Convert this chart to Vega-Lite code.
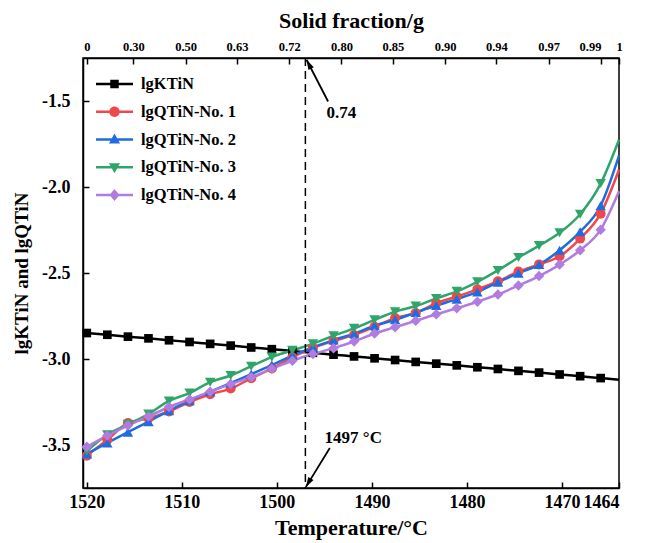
{
"$schema": "https://vega.github.io/schema/vega-lite/v6.json",
"width": 536, "height": 430,
"autosize": {"type": "none"},
"padding": {"left": 83, "top": 58, "right": 27, "bottom": 55},
"config": {
  "font": "Liberation Serif",
  "view": {"stroke": "black", "strokeWidth": 1.5},
  "axis": {"labelFont": "Liberation Serif", "titleFont": "Liberation Serif", "labelFontWeight": "bold", "titleFontWeight": "bold", "labelColor": "black", "titleColor": "black", "domainColor": "black", "tickColor": "black", "domainWidth": 1.5, "tickWidth": 1.5, "grid": false, "tickSize": -6}
},
"datasets": {
"curves": [
{"series":"lgKTiN","T":1520,"v":-2.849},{"series":"lgKTiN","T":1517.84,"v":-2.859},{"series":"lgKTiN","T":1515.67,"v":-2.870},{"series":"lgKTiN","T":1513.51,"v":-2.880},{"series":"lgKTiN","T":1511.35,"v":-2.891},{"series":"lgKTiN","T":1509.19,"v":-2.901},{"series":"lgKTiN","T":1507.02,"v":-2.912},{"series":"lgKTiN","T":1504.86,"v":-2.922},{"series":"lgKTiN","T":1502.7,"v":-2.933},{"series":"lgKTiN","T":1500.53,"v":-2.943},{"series":"lgKTiN","T":1498.37,"v":-2.954},{"series":"lgKTiN","T":1496.21,"v":-2.964},{"series":"lgKTiN","T":1494.04,"v":-2.975},{"series":"lgKTiN","T":1491.88,"v":-2.985},{"series":"lgKTiN","T":1489.72,"v":-2.996},{"series":"lgKTiN","T":1487.56,"v":-3.006},{"series":"lgKTiN","T":1485.39,"v":-3.017},{"series":"lgKTiN","T":1483.23,"v":-3.027},{"series":"lgKTiN","T":1481.07,"v":-3.037},{"series":"lgKTiN","T":1478.9,"v":-3.048},{"series":"lgKTiN","T":1476.74,"v":-3.058},{"series":"lgKTiN","T":1474.58,"v":-3.069},{"series":"lgKTiN","T":1472.41,"v":-3.079},{"series":"lgKTiN","T":1470.25,"v":-3.090},{"series":"lgKTiN","T":1468.09,"v":-3.100},{"series":"lgKTiN","T":1465.93,"v":-3.111},{"series":"lgKTiN","T":1464,"v":-3.121},
{"series":"lgQTiN-No. 1","T":1520,"v":-3.562},{"series":"lgQTiN-No. 1","T":1517.84,"v":-3.47},{"series":"lgQTiN-No. 1","T":1515.67,"v":-3.372},{"series":"lgQTiN-No. 1","T":1513.51,"v":-3.345},{"series":"lgQTiN-No. 1","T":1511.35,"v":-3.305},{"series":"lgQTiN-No. 1","T":1509.19,"v":-3.25},{"series":"lgQTiN-No. 1","T":1507.02,"v":-3.205},{"series":"lgQTiN-No. 1","T":1504.86,"v":-3.172},{"series":"lgQTiN-No. 1","T":1502.7,"v":-3.112},{"series":"lgQTiN-No. 1","T":1500.53,"v":-3.055},{"series":"lgQTiN-No. 1","T":1498.37,"v":-2.99},{"series":"lgQTiN-No. 1","T":1496.21,"v":-2.935},{"series":"lgQTiN-No. 1","T":1494.04,"v":-2.895},{"series":"lgQTiN-No. 1","T":1491.88,"v":-2.86},{"series":"lgQTiN-No. 1","T":1489.72,"v":-2.812},{"series":"lgQTiN-No. 1","T":1487.56,"v":-2.762},{"series":"lgQTiN-No. 1","T":1485.39,"v":-2.733},{"series":"lgQTiN-No. 1","T":1483.23,"v":-2.675},{"series":"lgQTiN-No. 1","T":1481.07,"v":-2.637},{"series":"lgQTiN-No. 1","T":1478.9,"v":-2.595},{"series":"lgQTiN-No. 1","T":1476.74,"v":-2.548},{"series":"lgQTiN-No. 1","T":1474.58,"v":-2.492},{"series":"lgQTiN-No. 1","T":1472.41,"v":-2.45},{"series":"lgQTiN-No. 1","T":1470.25,"v":-2.403},{"series":"lgQTiN-No. 1","T":1468.09,"v":-2.30},{"series":"lgQTiN-No. 1","T":1465.93,"v":-2.155},{"series":"lgQTiN-No. 1","T":1464,"v":-1.90},
{"series":"lgQTiN-No. 2","T":1520,"v":-3.552},{"series":"lgQTiN-No. 2","T":1517.84,"v":-3.488},{"series":"lgQTiN-No. 2","T":1515.67,"v":-3.425},{"series":"lgQTiN-No. 2","T":1513.51,"v":-3.364},{"series":"lgQTiN-No. 2","T":1511.35,"v":-3.30},{"series":"lgQTiN-No. 2","T":1509.19,"v":-3.242},{"series":"lgQTiN-No. 2","T":1507.02,"v":-3.19},{"series":"lgQTiN-No. 2","T":1504.86,"v":-3.14},{"series":"lgQTiN-No. 2","T":1502.7,"v":-3.088},{"series":"lgQTiN-No. 2","T":1500.53,"v":-3.035},{"series":"lgQTiN-No. 2","T":1498.37,"v":-2.98},{"series":"lgQTiN-No. 2","T":1496.21,"v":-2.932},{"series":"lgQTiN-No. 2","T":1494.04,"v":-2.89},{"series":"lgQTiN-No. 2","T":1491.88,"v":-2.853},{"series":"lgQTiN-No. 2","T":1489.72,"v":-2.806},{"series":"lgQTiN-No. 2","T":1487.56,"v":-2.772},{"series":"lgQTiN-No. 2","T":1485.39,"v":-2.73},{"series":"lgQTiN-No. 2","T":1483.23,"v":-2.689},{"series":"lgQTiN-No. 2","T":1481.07,"v":-2.652},{"series":"lgQTiN-No. 2","T":1478.9,"v":-2.61},{"series":"lgQTiN-No. 2","T":1476.74,"v":-2.553},{"series":"lgQTiN-No. 2","T":1474.58,"v":-2.501},{"series":"lgQTiN-No. 2","T":1472.41,"v":-2.451},{"series":"lgQTiN-No. 2","T":1470.25,"v":-2.368},{"series":"lgQTiN-No. 2","T":1468.09,"v":-2.26},{"series":"lgQTiN-No. 2","T":1465.93,"v":-2.109},{"series":"lgQTiN-No. 2","T":1464,"v":-1.818},
{"series":"lgQTiN-No. 3","T":1520,"v":-3.535},{"series":"lgQTiN-No. 3","T":1517.84,"v":-3.44},{"series":"lgQTiN-No. 3","T":1515.67,"v":-3.38},{"series":"lgQTiN-No. 3","T":1513.51,"v":-3.32},{"series":"lgQTiN-No. 3","T":1511.35,"v":-3.244},{"series":"lgQTiN-No. 3","T":1509.19,"v":-3.198},{"series":"lgQTiN-No. 3","T":1507.02,"v":-3.135},{"series":"lgQTiN-No. 3","T":1504.86,"v":-3.096},{"series":"lgQTiN-No. 3","T":1502.7,"v":-3.042},{"series":"lgQTiN-No. 3","T":1500.53,"v":-2.989},{"series":"lgQTiN-No. 3","T":1498.37,"v":-2.95},{"series":"lgQTiN-No. 3","T":1496.21,"v":-2.911},{"series":"lgQTiN-No. 3","T":1494.04,"v":-2.865},{"series":"lgQTiN-No. 3","T":1491.88,"v":-2.822},{"series":"lgQTiN-No. 3","T":1489.72,"v":-2.772},{"series":"lgQTiN-No. 3","T":1487.56,"v":-2.725},{"series":"lgQTiN-No. 3","T":1485.39,"v":-2.692},{"series":"lgQTiN-No. 3","T":1483.23,"v":-2.648},{"series":"lgQTiN-No. 3","T":1481.07,"v":-2.607},{"series":"lgQTiN-No. 3","T":1478.9,"v":-2.551},{"series":"lgQTiN-No. 3","T":1476.74,"v":-2.485},{"series":"lgQTiN-No. 3","T":1474.58,"v":-2.41},{"series":"lgQTiN-No. 3","T":1472.41,"v":-2.341},{"series":"lgQTiN-No. 3","T":1470.25,"v":-2.266},{"series":"lgQTiN-No. 3","T":1468.09,"v":-2.158},{"series":"lgQTiN-No. 3","T":1465.93,"v":-1.98},{"series":"lgQTiN-No. 3","T":1464,"v":-1.725},
{"series":"lgQTiN-No. 4","T":1520,"v":-3.51},{"series":"lgQTiN-No. 4","T":1517.84,"v":-3.445},{"series":"lgQTiN-No. 4","T":1515.67,"v":-3.387},{"series":"lgQTiN-No. 4","T":1513.51,"v":-3.334},{"series":"lgQTiN-No. 4","T":1511.35,"v":-3.279},{"series":"lgQTiN-No. 4","T":1509.19,"v":-3.235},{"series":"lgQTiN-No. 4","T":1507.02,"v":-3.19},{"series":"lgQTiN-No. 4","T":1504.86,"v":-3.146},{"series":"lgQTiN-No. 4","T":1502.7,"v":-3.106},{"series":"lgQTiN-No. 4","T":1500.53,"v":-3.057},{"series":"lgQTiN-No. 4","T":1498.37,"v":-3.01},{"series":"lgQTiN-No. 4","T":1496.21,"v":-2.971},{"series":"lgQTiN-No. 4","T":1494.04,"v":-2.937},{"series":"lgQTiN-No. 4","T":1491.88,"v":-2.898},{"series":"lgQTiN-No. 4","T":1489.72,"v":-2.852},{"series":"lgQTiN-No. 4","T":1487.56,"v":-2.815},{"series":"lgQTiN-No. 4","T":1485.39,"v":-2.778},{"series":"lgQTiN-No. 4","T":1483.23,"v":-2.74},{"series":"lgQTiN-No. 4","T":1481.07,"v":-2.705},{"series":"lgQTiN-No. 4","T":1478.9,"v":-2.667},{"series":"lgQTiN-No. 4","T":1476.74,"v":-2.625},{"series":"lgQTiN-No. 4","T":1474.58,"v":-2.573},{"series":"lgQTiN-No. 4","T":1472.41,"v":-2.518},{"series":"lgQTiN-No. 4","T":1470.25,"v":-2.451},{"series":"lgQTiN-No. 4","T":1468.09,"v":-2.368},{"series":"lgQTiN-No. 4","T":1465.93,"v":-2.248},{"series":"lgQTiN-No. 4","T":1464,"v":-2.025}
],
"notes": [
{"label":"0.74","T":1494.61,"v":-1.503,"T2":1496.88,"v2":-1.26,"Tl":1493.2,"vl":-1.571},
{"label":"1497 °C","T":1494.43,"v":-3.518,"T2":1496.96,"v2":-3.745,"Tl":1491.96,"vl":-3.459}
]
},
"resolve": {"axis": {"x": "independent", "y": "independent"}},
"layer": [
{
  "data": {"name": "curves"},
  "mark": {"type": "line", "strokeWidth": 2.5, "interpolate": "monotone"},
  "encoding": {
    "x": {"field": "T", "type": "quantitative",
      "scale": {"domain": [1464, 1520.4], "reverse": true, "nice": false, "zero": false},
      "axis": {"orient": "bottom", "values": [1520, 1510, 1500, 1490, 1480, 1470, 1464], "format": "d", "title": "Temperature/°C", "labelFontSize": 18, "labelPadding": 11, "labelFlush": true, "labelOverlap": false, "titleFontSize": 22, "titlePadding": 6}},
    "y": {"field": "v", "type": "quantitative",
      "scale": {"domain": [-3.75, -1.25], "nice": false, "zero": false},
      "axis": {"values": [-3.5, -3, -2.5, -2, -1.5], "labelExpr": "(datum.value < 0 ? '-' : '') + format(abs(datum.value), '.1f')", "title": "lgKTiN and lgQTiN", "labelFontSize": 18, "labelPadding": 19, "labelOverlap": false, "titleFontSize": 19, "titlePadding": 10}},
    "stroke": {"field": "series", "type": "nominal",
      "scale": {"range": ["#000000", "#F0474B", "#1F6CE0", "#2FA56A", "#B07CE0"]},
      "legend": null}
  }
},
{
  "data": {"name": "curves"},
  "transform": [{"filter": "datum.series == 'lgKTiN' && datum.T > 1465"}],
  "mark": {"type": "point", "shape": "square", "filled": true, "size": 75, "opacity": 1, "color": "#000000"},
  "encoding": {"x": {"field": "T", "type": "quantitative", "axis": null}, "y": {"field": "v", "type": "quantitative", "axis": null}}
},
{
  "data": {"name": "curves"},
  "transform": [{"filter": "datum.series == 'lgQTiN-No. 1' && datum.T > 1465"}],
  "mark": {"type": "point", "shape": "circle", "filled": true, "size": 100, "opacity": 1, "color": "#F0474B"},
  "encoding": {"x": {"field": "T", "type": "quantitative", "axis": null}, "y": {"field": "v", "type": "quantitative", "axis": null}}
},
{
  "data": {"name": "curves"},
  "transform": [{"filter": "datum.series == 'lgQTiN-No. 2' && datum.T > 1465"}],
  "mark": {"type": "point", "shape": "triangle-up", "filled": true, "size": 110, "opacity": 1, "color": "#1F6CE0"},
  "encoding": {"x": {"field": "T", "type": "quantitative", "axis": null}, "y": {"field": "v", "type": "quantitative", "axis": null}}
},
{
  "data": {"name": "curves"},
  "transform": [{"filter": "datum.series == 'lgQTiN-No. 3' && datum.T > 1465"}],
  "mark": {"type": "point", "shape": "triangle-down", "filled": true, "size": 110, "opacity": 1, "color": "#2FA56A"},
  "encoding": {"x": {"field": "T", "type": "quantitative", "axis": null}, "y": {"field": "v", "type": "quantitative", "axis": null}}
},
{
  "data": {"name": "curves"},
  "transform": [{"filter": "datum.series == 'lgQTiN-No. 4' && datum.T > 1465"}],
  "mark": {"type": "point", "shape": "diamond", "filled": true, "size": 110, "opacity": 1, "color": "#B07CE0"},
  "encoding": {"x": {"field": "T", "type": "quantitative", "axis": null}, "y": {"field": "v", "type": "quantitative", "axis": null}}
},
{
  "data": {"name": "curves"},
  "transform": [{"filter": "datum.T > 9999"}],
  "mark": {"type": "point", "filled": true, "opacity": 1},
  "encoding": {
    "x": {"field": "T", "type": "quantitative", "axis": null},
    "y": {"field": "v", "type": "quantitative", "axis": null},
    "color": {"field": "series", "type": "nominal",
      "scale": {"domain": ["lgKTiN", "lgQTiN-No. 1", "lgQTiN-No. 2", "lgQTiN-No. 3", "lgQTiN-No. 4"], "range": ["#000000", "#F0474B", "#1F6CE0", "#2FA56A", "#B07CE0"]},
      "legend": {"orient": "none", "legendX": 13, "legendY": 16, "title": null, "padding": 0, "symbolSize": 1369, "clipHeight": 20, "rowPadding": 7.75, "labelOffset": 8, "labelFont": "Liberation Serif", "labelFontWeight": "bold", "labelFontSize": 16.5, "labelColor": "black", "symbolOpacity": 1, "symbolStrokeWidth": 0}},
    "shape": {"field": "series", "type": "nominal",
      "scale": {"domain": ["lgKTiN", "lgQTiN-No. 1", "lgQTiN-No. 2", "lgQTiN-No. 3", "lgQTiN-No. 4"],
        "range": ["M-1,-0.068H1V0.068H-1Z M-0.23,-0.23H0.23V0.23H-0.23Z", "M-1,-0.068H1V0.068H-1Z M-0.28,0A0.28,0.28 0 1,1 0.28,0A0.28,0.28 0 1,1 -0.28,0Z", "M-1,-0.068H1V0.068H-1Z M0,-0.32L0.3,0.22L-0.3,0.22Z", "M-1,-0.068H1V0.068H-1Z M0,0.32L-0.3,-0.22L0.3,-0.22Z", "M-1,-0.068H1V0.068H-1Z M0,-0.32L0.27,0L0,0.32L-0.27,0Z"]},
      "legend": {"orient": "none", "legendX": 13, "legendY": 16, "title": null, "padding": 0, "symbolSize": 1369, "clipHeight": 20, "rowPadding": 7.75, "labelOffset": 8, "labelFont": "Liberation Serif", "labelFontWeight": "bold", "labelFontSize": 16.5, "labelColor": "black", "symbolOpacity": 1, "symbolStrokeWidth": 0}}
  }
},
{
  "data": {"values": [{"T": 1497}]},
  "mark": {"type": "rule", "strokeDash": [8, 5], "strokeWidth": 1.5, "color": "black"},
  "encoding": {
    "x": {"field": "T", "type": "quantitative",
      "axis": {"orient": "top", "values": [1520, 1515.1, 1509.6, 1504.2, 1498.7, 1493.2, 1487.8, 1482.3, 1476.9, 1471.4, 1465.9, 1464], "labelExpr": "['0','0.30','0.50','0.63','0.72','0.80','0.85','0.90','0.94','0.97','0.99','1'][indexof([1520,1515.1,1509.6,1504.2,1498.7,1493.2,1487.8,1482.3,1476.9,1471.4,1465.9,1464], datum.value)]", "labelAlign": {"condition": {"test": "datum.value == 1465.9", "value": "right"}, "value": "center"}, "title": "Solid fraction/g", "labelFontSize": 12.5, "labelPadding": 10.5, "labelFlush": true, "labelOverlap": false, "titleFontSize": 22, "titlePadding": 8}}
  }
},
{
  "data": {"name": "notes"},
  "mark": {"type": "rule", "strokeWidth": 1.8, "color": "black"},
  "encoding": {
    "x": {"field": "T", "type": "quantitative", "axis": null},
    "y": {"field": "v", "type": "quantitative", "axis": null},
    "x2": {"field": "T2"},
    "y2": {"field": "v2"}
  }
},
{
  "data": {"name": "notes"},
  "transform": [{"filter": "datum.label == '0.74'"}],
  "mark": {"type": "point", "shape": "M0,0L0.6,2L-0.6,2Z", "filled": true, "size": 100, "angle": 332.6, "color": "black", "opacity": 1},
  "encoding": {
    "x": {"field": "T2", "type": "quantitative", "axis": null},
    "y": {"field": "v2", "type": "quantitative", "axis": null}
  }
},
{
  "data": {"name": "notes"},
  "transform": [{"filter": "datum.label != '0.74'"}],
  "mark": {"type": "point", "shape": "M0,0L0.6,2L-0.6,2Z", "filled": true, "size": 100, "angle": 211, "color": "black", "opacity": 1},
  "encoding": {
    "x": {"field": "T2", "type": "quantitative", "axis": null},
    "y": {"field": "v2", "type": "quantitative", "axis": null}
  }
},
{
  "data": {"name": "notes"},
  "mark": {"type": "text", "font": "Liberation Serif", "fontWeight": "bold", "fontSize": 17, "color": "black"},
  "encoding": {
    "x": {"field": "Tl", "type": "quantitative", "axis": null},
    "y": {"field": "vl", "type": "quantitative", "axis": null},
    "text": {"field": "label"}
  }
}
]
}
